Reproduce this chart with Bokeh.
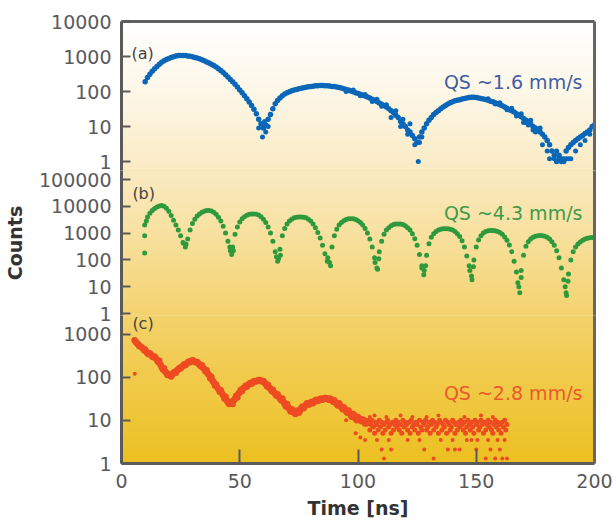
import numpy as np
from bokeh.plotting import figure
from bokeh.layouts import column
from bokeh.models import Range1d, FixedTicker, LinearAxis, Label, NumeralTickFormatter, Styles
from bokeh.embed import file_html
from bokeh.resources import INLINE

# ---------------- data ----------------
# Panel (a): QS ~1.6 mm/s, one value per ns starting at t = 10 ns
a_t0 = 10
a_counts = [
    190, 250, 310, 380, 450, 520, 600, 680, 750, 820,
    880, 940, 990, 1030, 1060, 1070, 1075, 1060, 1040, 1010,
    980, 940, 900, 860, 810, 760, 700, 650, 600, 550,
    500, 450, 400, 350, 300, 260, 220, 190, 160, 135,
    110, 92, 75, 62, 50, 40, 31, 23, 16, 12,
    9, 11, 16, 22, 32, 45, 55, 65, 75, 85,
    92, 98, 105, 110, 115, 120, 124, 128, 132, 136,
    140, 142, 145, 147, 148, 148, 146, 145, 143, 140,
    138, 135, 130, 125, 120, 115, 110, 104, 98, 92,
    88, 84, 78, 74, 70, 65, 60, 56, 52, 47,
    43, 40, 36, 32, 28, 25, 21, 18, 14, 12,
    10, 8, 7, 5.5, 4.5, 3.5, 5, 7, 9, 12,
    15, 18, 22, 25, 28, 32, 36, 40, 44, 48,
    51, 54, 56, 58, 61, 63, 65, 67, 69, 68,
    67, 65, 63, 61, 59, 56, 53, 51, 48, 45,
    42, 39, 36, 33, 30, 28, 26, 23, 21, 19,
    17, 15, 14, 12, 10, 9, 8, 7, 6, 5,
    4, 3, 2, 1.5, 1, 1.5, 1, 1, 2, 2.5,
    3, 3.5, 4, 4.5, 5, 5.5, 6.3, 7, 8, 10,
    11,
]
a_extra_t = [58, 59.6, 61, 60.5, 62, 95, 98, 101, 103, 106, 108, 110, 112,
             114, 116, 118, 119, 121, 122, 124, 125.5, 126, 127,
             155, 158, 160, 163, 165, 167, 169, 170, 171, 172, 173, 174, 175, 177, 178,
             180, 181, 183, 184, 185, 186, 187, 188, 189, 190, 192, 194, 196, 198]
a_extra_counts = [9, 5, 7, 14, 10, 100, 110, 75, 82, 52, 60, 38, 42,
                  18, 28, 10, 16, 6, 12, 3, 1, 3.5, 5,
                  62, 44, 48, 30, 33, 20, 23, 13, 13, 11, 15, 8, 7, 9, 3,
                  2, 1.2, 1.2, 2, 1.2, 1.2, 1.2, 1.2, 1.2, 1.2, 2, 3, 4, 6]

# Panel (b): QS ~4.3 mm/s, one value per ns starting at t = 11 ns
b_t0 = 11
b_counts = [
    4000, 5500, 7000, 8300, 9500, 10300, 10700, 10000, 8500, 6500,
    4500, 3000, 2000, 1300, 800, 450, 300, 600, 1300, 2300,
    3300, 4300, 5200, 6000, 6600, 7000, 7000, 6700, 6000, 5000,
    3900, 2800, 1800, 1000, 500, 220, 300, 900, 1700, 2600,
    3400, 4100, 4600, 5000, 5200, 5200, 5100, 4700, 4100, 3300,
    2500, 1700, 1000, 500, 200, 90, 250, 800, 1500, 2200,
    2800, 3300, 3700, 3900, 4000, 4000, 3900, 3700, 3300, 2800,
    2200, 1600, 1050, 650, 350, 170, 90, 80, 300, 800,
    1400, 2000, 2500, 2900, 3200, 3400, 3400, 3400, 3200, 2900,
    2500, 2000, 1500, 1000, 600, 300, 120, 50, 200, 500,
    900, 1300, 1600, 1900, 2100, 2200, 2200, 2200, 2100, 1900,
    1600, 1300, 950, 620, 350, 160, 60, 40, 150, 400,
    700, 950, 1150, 1300, 1400, 1450, 1450, 1450, 1400, 1300,
    1150, 950, 750, 520, 300, 140, 60, 25, 100, 300,
    550, 800, 1000, 1150, 1220, 1250, 1250, 1220, 1150, 1050,
    900, 720, 540, 360, 200, 90, 35, 10, 40, 150,
    320, 480, 600, 700, 770, 800, 810, 800, 770, 700,
    600, 480, 350, 220, 120, 50, 18, 6, 30, 100,
    200, 300, 390, 470, 540, 600, 640, 670, 690, 700,
]
b_extra_t = [9.8, 9.8, 9.8, 10.5, 26.2, 27.3, 45.8, 46.6, 47.3, 65.5, 66.4, 67.2,
             87.2, 88.4, 107.2, 108.3, 108.8, 127.0, 127.8, 128.6, 147.3, 148.2,
             148.8, 167.6, 168.4, 169.0, 187.6, 188.2, 188.8]
b_extra_counts = [180, 800, 2000, 2800, 420, 380, 300, 160, 220, 130, 110, 150,
                  120, 60, 80, 45, 110, 50, 28, 60, 40, 18,
                  55, 14, 6, 22, 10, 4.7, 16]

# Panel (c): QS ~2.8 mm/s, one value per ns starting at t = 5.5 ns
c_t0 = 5.5
c_counts = [
    720, 610, 530, 490, 420, 390, 340, 330, 290, 275,
    225, 195, 150, 135, 112, 110, 115, 133, 142, 163,
    175, 198, 208, 232, 238, 240, 218, 208, 180, 166,
    136, 122, 95, 83, 64, 58, 46, 42, 32, 29,
    24, 27, 29, 37, 42, 51, 55, 63, 67, 73,
    76, 82, 83, 86, 79, 74, 62, 57, 48, 44,
    37, 35, 29, 27, 21, 20, 16, 17, 14, 17,
    17, 21, 21, 25, 24, 27, 27, 30, 29, 32,
    31, 33, 30, 31, 27, 26, 22, 22, 18, 18,
    15, 15, 12, 13, 10, 11, 9.5, 10, 8.5,
]
# second row of readings of the same band, one per ns starting at t = 6 ns
c2_t0 = 6.0
c2_counts = [
    660, 580, 510, 460, 440, 360, 360, 300, 300, 250,
    240, 170, 160, 125, 118, 104, 125, 126, 152, 158,
    185, 190, 220, 222, 245, 228, 226, 195, 190, 155,
    145, 112, 102, 76, 68, 53, 50, 38, 35, 26,
    26, 24, 32, 34, 45, 48, 58, 60, 70, 70,
    80, 79, 86, 83, 82, 69, 66, 53, 51, 41,
    40, 32, 32, 24, 24, 18, 18, 15, 16, 15,
    19, 19, 23, 23, 26, 25, 29, 28, 31, 30,
    33, 31, 32, 29, 29, 24, 25, 20, 20, 16,
    17, 13, 14, 11, 12, 10, 10.5, 8.5, 9.5,
]
# noisy tail, one value per 0.5 ns starting at t = 104.5 ns
c_tail_t0 = 104.5
c_tail_counts = [
    9, 6, 8, 10, 7, 5, 9, 8, 6, 10, 7, 9, 5, 8, 6, 9, 10, 7, 8, 5,
    9, 6, 8, 10, 7, 9, 6, 8, 5, 10, 7, 9, 8, 6, 9, 5, 10, 7, 8, 6,
    9, 8, 5, 10, 7, 6, 9, 8, 10, 6, 7, 9, 5, 8, 10, 6, 9, 7, 8, 5,
    10, 9, 6, 8, 7, 10, 5, 9, 8, 6, 7, 10, 9, 5, 8, 6, 9, 7, 10, 8,
    6, 9, 5, 7, 10, 8, 6, 9, 7, 5, 10, 8, 9, 6, 7, 10, 8, 5, 9, 6,
    8, 10, 7, 9, 6, 5, 8, 10, 7, 9, 6, 8, 5, 9, 7, 10, 6, 8,
]
c_extra_t = [5.6, 95, 99, 101, 103, 105, 107, 108, 110, 111, 112, 113, 114, 118, 121,
             123, 126, 128, 129, 132, 134, 135, 138, 140, 141, 143, 145, 146, 148, 150,
             150.5, 152, 154, 155, 156, 157, 158, 159, 160, 161, 162, 163]
c_extra_counts = [120, 10, 5, 4, 3.5, 12, 13, 3.5, 2.1, 1.3, 12, 3.5, 2.1, 13, 3.5,
                  12, 3.5, 2.1, 12, 1.3, 13, 3.5, 2.1, 3.5, 2.1, 2.1, 12, 3.5, 3.5, 2.1,
                  3.5, 13, 1.3, 3.5, 2.1, 12, 1.3, 3.5, 2.1, 1.3, 3.5, 1.3]

panel_labels = ["(a)", "(b)", "(c)"]
qs_labels = ["QS ~1.6 mm/s", "QS ~4.3 mm/s", "QS ~2.8 mm/s"]
x_ticks = [0, 50, 100, 150, 200]

# ---------------- styling ----------------
W = 613
FONT = "DejaVu Sans"
AXIS_COL = "#5a5a5a"
LABEL_COL = "#5a5a5a"
colors = ["#0a67b8", "#2f9a3c", "#ee4b22"]
text_colors = ["#3f5f9f", "#3f9a49", "#ec5a2c"]

# background gradient (page pixel row -> colour)
grad_px = [21, 90, 160, 250, 330, 400, 467]
grad_rgb = [(255, 255, 255), (253, 247, 232), (250, 236, 200), (247, 222, 150),
            (243, 208, 100), (240, 200, 65), (236, 192, 32)]
OVERLAP = 22   # canvases overlap so that tick labels near panel joins are not cut
EXT = 10       # gradient image overhang beyond each frame (clipped by the frame)


def gradient_image(top, bottom):
    rows = np.arange(bottom - 0.5, top, -1.0)  # bottom-up
    img = np.empty((len(rows), 2), dtype=np.uint32)
    view = img.view(dtype=np.uint8).reshape((len(rows), 2, 4))
    for k in range(3):
        ch = np.interp(rows, grad_px, [c[k] for c in grad_rgb])
        view[:, :, k] = np.round(ch)[:, None].astype(np.uint8)
    view[:, :, 3] = 255
    return img


def make_panel(frame_top, frame_bottom, top_val, top_px, one_px,
               border_top, border_bottom, with_xaxis):
    ntop = int(round(np.log10(top_val)))
    dec = (one_px - top_px) / ntop
    ly0 = -(frame_bottom - one_px) / dec
    ly1 = ntop + (top_px - frame_top) / dec
    height = border_top + (frame_bottom - frame_top) + border_bottom
    p = figure(width=W, height=height, x_range=Range1d(0, 200),
               y_range=Range1d(10 ** ly0, 10 ** ly1),
               y_axis_type="log", x_axis_location="below" if with_xaxis else None,
               output_backend="svg", toolbar_location=None,
               min_border_left=119, min_border_right=19,
               min_border_top=border_top, min_border_bottom=border_bottom)
    p.outline_line_color = None
    p.border_fill_alpha = 0
    p.background_fill_color = "#f6dc96"
    p.xgrid.visible = False
    p.ygrid.visible = False
    iy0 = 10 ** (ly0 - EXT / dec)
    iy1 = 10 ** (ly1 + EXT / dec)
    p.image_rgba(image=[gradient_image(frame_top - EXT, frame_bottom + EXT)],
                 x=-5, y=iy0, dw=210, dh=iy1 - iy0)

    ya = p.yaxis[0]
    ya.ticker = FixedTicker(ticks=[10 ** k for k in range(ntop + 1)])
    ya.formatter = NumeralTickFormatter(format="0")
    ya.major_tick_in = 9
    ya.major_tick_out = 0
    ya.minor_tick_line_color = None
    ya.axis_line_width = 3
    ya.axis_line_color = AXIS_COL
    ya.major_tick_line_width = 2
    ya.major_tick_line_color = AXIS_COL
    ya.major_label_text_font = FONT
    ya.major_label_text_font_size = "19px"
    ya.major_label_text_color = LABEL_COL
    ya.major_label_standoff = 10

    ra = LinearAxis(ticker=FixedTicker(ticks=[]), major_tick_out=0, major_tick_in=0,
                    major_label_standoff=0, axis_line_width=3, axis_line_color="#666666",
                    minor_tick_line_color=None, major_tick_line_color=None)
    p.add_layout(ra, "right")
    return p


# panel (a): frame 21..170
pa = make_panel(21, 170, 1e4, 21, 161, 21, 12, False)
top_axis = LinearAxis(ticker=FixedTicker(ticks=[]), major_tick_out=0, major_tick_in=0,
                      major_label_standoff=0, axis_line_width=3, axis_line_color="#5f5f5f",
                      minor_tick_line_color=None, major_tick_line_color=None)
pa.add_layout(top_axis, "above")
a_t = a_t0 + np.arange(len(a_counts))
pa.scatter(a_t, a_counts, size=5.5, fill_color=colors[0], line_color=None)
pa.scatter(a_extra_t, a_extra_counts, size=5, fill_color=colors[0], line_color=None)

# panel (b): frame 170..315
pb = make_panel(170, 315, 1e5, 179, 313, 10, 12, False)
pb.styles = Styles(margin_top=f"-{OVERLAP}px")
b_t = b_t0 + np.arange(len(b_counts))
pb.scatter(b_t, b_counts, size=5, fill_color=colors[1], line_color=None)
pb.scatter(b_extra_t, b_extra_counts, size=5, fill_color=colors[1], line_color=None)
pb.yaxis[0].axis_label = "Counts"
pb.yaxis[0].axis_label_text_font = FONT
pb.yaxis[0].axis_label_text_font_style = "bold"
pb.yaxis[0].axis_label_text_font_size = "19px"
pb.yaxis[0].axis_label_text_color = "#333333"
pb.yaxis[0].axis_label_standoff = 10

# panel (c): frame 315..467
pc = make_panel(315, 467, 1e3, 334, 467, 10, 54, True)
pc.styles = Styles(margin_top=f"-{OVERLAP}px")
c_t = c_t0 + np.arange(len(c_counts))
c2_t = c2_t0 + np.arange(len(c2_counts))
c_tail_t = c_tail_t0 + 0.5 * np.arange(len(c_tail_counts))
pc.scatter(c_t, c_counts, size=6.5, fill_color=colors[2], line_color=None)
pc.scatter(c2_t, c2_counts, size=6.5, fill_color=colors[2], line_color=None)
pc.scatter(c_tail_t, c_tail_counts, size=5, fill_color=colors[2], line_color=None)
pc.scatter(c_extra_t, c_extra_counts, size=4, fill_color=colors[2], line_color=None)
xa = pc.xaxis[0]
xa.ticker = FixedTicker(ticks=x_ticks)
xa.major_tick_in = 14
xa.major_tick_out = 0
xa.minor_tick_line_color = None
xa.axis_line_width = 3
xa.axis_line_color = AXIS_COL
xa.major_tick_line_width = 2
xa.major_tick_line_color = AXIS_COL
xa.major_label_text_font = FONT
xa.major_label_text_font_size = "19px"
xa.major_label_text_color = LABEL_COL
xa.major_label_standoff = 10
xa.axis_label = "Time [ns]"
xa.axis_label_text_font = FONT
xa.axis_label_text_font_style = "bold"
xa.axis_label_text_font_size = "19px"
xa.axis_label_text_color = "#333333"
xa.axis_label_standoff = 6

# annotations
panel_label_pos = [(4.2, 1220), (4.6, 30000), (4.6, 1778)]
qs_pos = [(194.9, 181), (194.9, 5400), (194.9, 42)]
for p, lab, (lx, ly), qs, (qx, qy), tc in zip(
        [pa, pb, pc], panel_labels, panel_label_pos, qs_labels, qs_pos, text_colors):
    p.add_layout(Label(x=lx, y=ly, text=lab, text_font=FONT, text_font_size="16px",
                       text_color="#444444", text_align="left", text_baseline="middle"))
    p.add_layout(Label(x=qx, y=qy, text=qs, text_font=FONT, text_font_size="19px",
                       text_color=tc, text_align="right", text_baseline="middle"))

layout = column(pa, pb, pc, spacing=0)
open("out.html", "w").write(file_html(layout, INLINE))
